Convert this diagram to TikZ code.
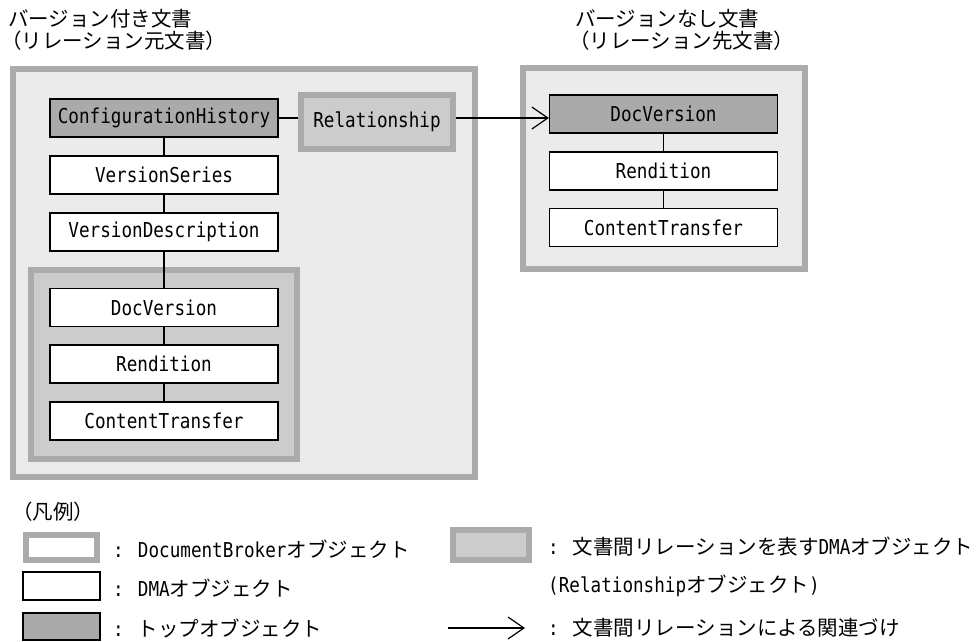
\documentclass[tikz,border=0pt]{standalone}
\usepackage{fontspec}
\setmainfont{Noto Sans CJK JP}
\newfontfamily\latn[Scale=1.0,FakeStretch=0.86]{DejaVu Sans Mono}
\usetikzlibrary{arrows.meta}

\definecolor{topgray}{HTML}{AAAAAA}
\definecolor{brokergray}{HTML}{ABABAB}
\definecolor{relgray}{HTML}{CCCCCC}
\definecolor{docgray}{HTML}{EBEBEB}

\begin{document}
\begin{tikzpicture}[x=1pt,y=-1pt,
  every node/.style={font=\fontsize{20.5}{24}\selectfont},
  obj/.style={draw=black,line width=1.2pt,fill=white,minimum width=228pt,
    minimum height=38pt,inner sep=0pt,font=\fontsize{20.5}{24}\selectfont\latn},
  topobj/.style={obj,fill=topgray},
  brokerbox/.style={draw=brokergray,line width=6pt,inner sep=0pt},
  relobj/.style={brokerbox,fill=relgray,minimum width=152pt,minimum height=54pt,
    font=\fontsize{20.5}{24}\selectfont\latn},
  docarea/.style={draw=brokergray,line width=6pt,fill=docgray},
  grouparea/.style={draw=brokergray,line width=6pt,fill=relgray},
  conn/.style={line width=1.2pt},
  relarrow/.style={line width=1.2pt,
    -{Straight Barb[length=16pt,width=22pt,line width=1.2pt]}},
  txt/.style={anchor=west,inner sep=0pt}]
  \useasboundingbox (0,0) rectangle (979,641);

  \node[txt] (srctitle) at (8,19) {バージョン付き文書};
  \node[txt] (srcsub) at (1,41) {（リレーション元文書）};
  \node[txt] (dsttitle) at (575,19) {バージョンなし文書};
  \node[txt] (dstsub) at (569,41) {（リレーション先文書）};

  \draw[docarea] (13,69) rectangle (475,477);
  \draw[grouparea] (31,270) rectangle (297,459);
  \draw[docarea] (523,68) rectangle (805,269);

  \node[topobj] (config) at (164,118) {ConfigurationHistory};
  \node[obj] (series) at (164,175) {VersionSeries};
  \node[obj] (descr) at (164,232) {VersionDescription};
  \node[obj] (docver) at (164,307.5) {DocVersion};
  \node[obj] (rendi) at (164,364) {Rendition};
  \node[obj] (transf) at (164,421) {ContentTransfer};
  \node[relobj] (rel) at (377,122) {Relationship};
  \node[topobj] (docverb) at (663.5,114) {DocVersion};
  \node[obj] (rendib) at (663.5,171) {Rendition};
  \node[obj] (transfb) at (663.5,227.5) {ContentTransfer};

  \draw[conn] (config) -- (series);
  \draw[conn] (series) -- (descr);
  \draw[conn] (descr) -- (docver);
  \draw[conn] (docver) -- (rendi);
  \draw[conn] (rendi) -- (transf);
  \draw[conn] (docverb) -- (rendib);
  \draw[conn] (rendib) -- (transfb);
  \draw[conn] (config.east) -- (config.east -| rel.west);
  \draw[relarrow] (rel.east |- config.east) -- (config.east -| docverb.west);

  \node[txt] (legend) at (12,512) {（凡例）};
  \node[brokerbox,fill=white,minimum width=71pt,minimum height=25pt] (keydoc) at (61.5,547.5) {};
  \node[obj,minimum width=77pt,minimum height=28pt] (keydma) at (61.5,586) {};
  \node[topobj,minimum width=77pt,minimum height=27pt] (keytop) at (61.5,626.5) {};
  \node[relobj,minimum width=76pt,minimum height=30pt] (keyrel) at (491,545) {};
  \coordinate (keyfrom) at (448,628);
  \coordinate (keyto) at (525,628);
  \draw[relarrow] (keyfrom) -- (keyto);

  \node[txt] (keydoctext) at (113,549) {{\latn : DocumentBroker}オブジェクト};
  \node[txt] (keydmatext) at (113,588) {{\latn : DMA}オブジェクト};
  \node[txt] (keytoptext) at (113,628) {{\latn : }トップオブジェクト};
  \node[txt] (keyreltext) at (548,547) {{\latn : }文書間リレーションを表す{\latn DMA}オブジェクト};
  \node[txt] (keyrelsub) at (548,586) {{\latn (Relationship}オブジェクト{\latn )}};
  \node[txt] (keyarrowtext) at (548,628) {{\latn : }文書間リレーションによる関連づけ};
\end{tikzpicture}
\end{document}
